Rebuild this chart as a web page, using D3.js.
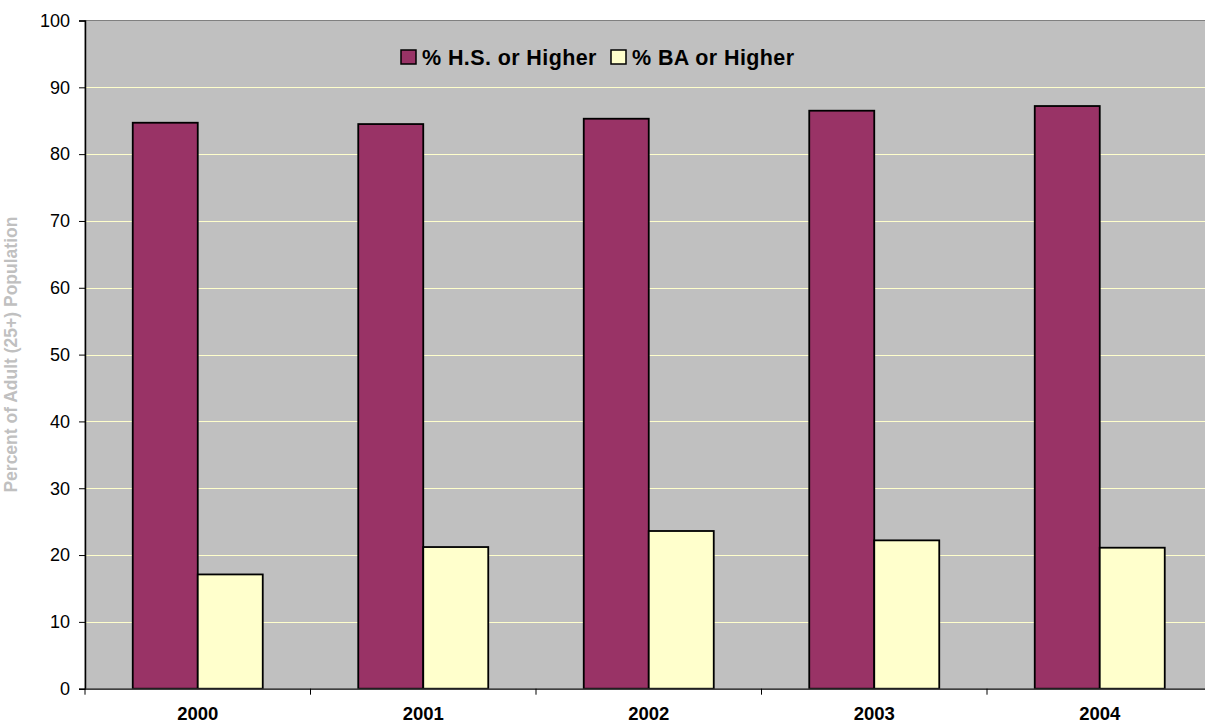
<!DOCTYPE html>
<html>
<head>
<meta charset="utf-8">
<script src="https://cdn.jsdelivr.net/npm/d3@7"></script>
<style>
  body { margin: 0; background: #fff; }
  svg { display: block; font-family: Arial, "Liberation Sans", sans-serif; }
</style>
</head>
<body>
<div id="chart"></div>
<script>
// chart data
var years = ["2000", "2001", "2002", "2003", "2004"];
var seriesNames = ["% H.S. or Higher", "% BA or Higher"];
var hsValues = [84.7, 84.5, 85.3, 86.5, 87.2];
var baValues = [17.1, 21.2, 23.6, 22.2, 21.1];
var yTicks = [0, 10, 20, 30, 40, 50, 60, 70, 80, 90, 100];
var colors = ["#993366", "#ffffcc"];

function init() {
    var w = 1205, h = 724;
    var left = 85, top = 20.5, bottom = 688.7;
    var bandW = 225.5;
    var barW = 65;

    var svg = d3.select("#chart").append("svg")
        .attr("width", w)
        .attr("height", h);

    //category scale, the plot runs past the right edge of the picture
    var x = d3.scaleBand()
        .domain(years)
        .range([left, left + bandW * years.length]);

    var y = d3.scaleLinear().domain([0, 100]).range([bottom, top]);

    // plot background
    svg.append("rect")
        .attr("x", left).attr("y", top)
        .attr("width", x.range()[1] - left).attr("height", bottom - top)
        .attr("fill", "#c0c0c0")
        .attr("stroke", "#808080")
        .attr("stroke-width", 1);

    // gridlines
    svg.append("g").selectAll("line")
        .data(yTicks.filter(function(d) { return d > 0 && d < 100; }))
        .enter().append("line")
        .attr("x1", left).attr("x2", x.range()[1])
        .attr("y1", function(d) { return Math.round(y(d)) + 0.5; })
        .attr("y2", function(d) { return Math.round(y(d)) + 0.5; })
        .attr("stroke", "#ffffcc")
        .attr("stroke-width", 1);

    // bars
    var groups = years.map(function(yr, i) {
        return [{ yr: yr, s: 0, v: hsValues[i] }, { yr: yr, s: 1, v: baValues[i] }];
    });
    svg.append("g").selectAll("g")
        .data(groups)
        .enter().append("g")
        .selectAll("rect")
        .data(function(d) { return d; })
        .enter().append("rect")
        .attr("x", function(d) { return x(d.yr) + bandW / 2 - barW + d.s * barW; })
        .attr("y", function(d) { return y(d.v); })
        .attr("width", barW)
        .attr("height", function(d) { return bottom - y(d.v); })
        .attr("fill", function(d) { return colors[d.s]; })
        .attr("stroke", "#000")
        .attr("stroke-width", 1.8);

    // y axis
    var yAxis = d3.axisLeft(y).tickValues(yTicks).tickSize(6).tickPadding(9);
    var ya = svg.append("g")
        .attr("transform", "translate(" + left + ",0)")
        .call(yAxis);
    ya.select(".domain").attr("stroke", "#000").attr("stroke-width", 1.5);
    ya.selectAll(".tick line").attr("stroke", "#000");
    ya.selectAll("text")
        .style("font-size", "18px")
        .attr("fill", "#000");

    // x axis
    var xAxis = d3.axisBottom(x).tickSize(0);
    var xa = svg.append("g")
        .attr("transform", "translate(0," + bottom + ")")
        .call(xAxis);
    xa.select(".domain").attr("stroke", "#404040").attr("stroke-width", 1.5);
    xa.selectAll("text")
        .attr("y", 31)
        .attr("dy", 0)
        .style("font-size", "18.5px")
        .style("font-weight", "bold")
        .attr("fill", "#000");

    // category separator ticks
    svg.append("g").selectAll("line")
        .data(years)
        .enter().append("line")
        .attr("x1", function(d) { return x(d); })
        .attr("x2", function(d) { return x(d); })
        .attr("y1", bottom)
        .attr("y2", bottom + 6)
        .attr("stroke", "#000");

    // y axis title
    svg.append("text")
        .attr("transform", "translate(17," + (top + bottom) / 2 + ") rotate(-90)")
        .attr("text-anchor", "middle")
        .style("font-size", "17.5px")
        .style("font-weight", "bold")
        .attr("fill", "#c0c0c0")
        .text("Percent of Adult (25+) Population");

    // legend
    var legendX = [401, 611];
    var lg = svg.append("g").selectAll("g")
        .data(seriesNames)
        .enter().append("g")
        .attr("transform", function(d, i) { return "translate(" + legendX[i] + ",50)"; });
    lg.append("rect")
        .attr("width", 15).attr("height", 14)
        .attr("fill", function(d, i) { return colors[i]; })
        .attr("stroke", "#000")
        .attr("stroke-width", 1.5);
    lg.append("text")
        .attr("x", 21).attr("y", 14.7)
        .style("font-size", "21.5px")
        .style("font-weight", "bold")
        .style("letter-spacing", "0.4px")
        .attr("fill", "#000")
        .text(function(d) { return d; });
}

window.onload = init;
</script>
</body>
</html>
